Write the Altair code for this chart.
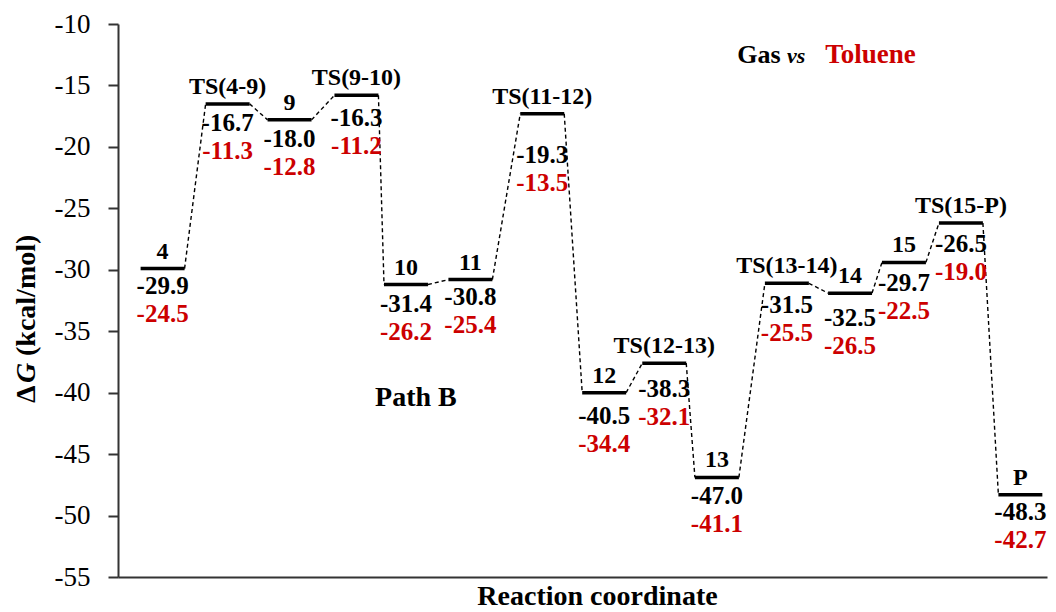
import altair as alt
import pandas as pd

# ---- data ----
species = ["4", "TS(4-9)", "9", "TS(9-10)", "10", "11", "TS(11-12)", "12",
           "TS(12-13)", "13", "TS(13-14)", "14", "15", "TS(15-P)", "P"]
# position along the reaction coordinate (centre of each level)
coord = [0.72, 1.77, 2.77, 3.85, 4.65, 5.69, 6.85, 7.85, 8.82, 9.67,
         10.80, 11.82, 12.69, 13.61, 14.57]
# height at which each level bar is drawn
level = [-29.9, -16.5, -17.8, -15.8, -31.2, -30.8, -17.3, -40.0, -37.6,
         -46.9, -31.1, -31.9, -29.4, -26.2, -48.3]
# gas-phase free energies (black labels)
gas = [-29.9, -16.7, -18.0, -16.3, -31.4, -30.8, -19.3, -40.5, -38.3,
       -47.0, -31.5, -32.5, -29.7, -26.5, -48.3]
# toluene free energies (red labels)
toluene = [-24.5, -11.3, -12.8, -11.2, -26.2, -25.4, -13.5, -34.4, -32.1,
           -41.1, -25.5, -26.5, -22.5, -19.0, -42.7]

y_ticks = [-55, -50, -45, -40, -35, -30, -25, -20, -15, -10]

# annotations (text, coordinate, energy)
ann_text = ["Gas", "vs", "Toluene", "Path B"]
ann_x = [10.0, 10.80, 11.42, 4.15]
ann_y = [-13.2, -13.2, -13.2, -41.1]

HALF = 0.355
FONT = "Liberation Serif"
RED = "#cc0000"
AXIS_COLOR = "#333333"

df = pd.DataFrame({
    "name": species, "coord": coord, "level": level,
    "gas": gas, "toluene": toluene,
})
df["left"] = df["coord"] - HALF
df["right"] = df["coord"] + HALF
df["gas_txt"] = [f"{v:.1f}" for v in gas]
df["tol_txt"] = [f"{v:.1f}" for v in toluene]

conn = pd.DataFrame({
    "x": list(df["right"][:-1]),
    "x2": list(df["left"][1:]),
    "y": level[:-1],
    "y2": level[1:],
})

ann = pd.DataFrame({"t": ann_text, "x": ann_x, "y": ann_y})

xs = alt.Scale(domain=[0, 15], nice=False, zero=False)
ys = alt.Scale(domain=[-55, -10], nice=False, zero=False)

xaxis = alt.Axis(
    title="Reaction coordinate", ticks=False, labels=False, grid=False,
    titleFont=FONT, titleFontSize=28, titleFontWeight="bold", titleColor="black",
    titleX=479, titleY=27, titleBaseline="alphabetic")
yaxis = alt.Axis(
    title=None, values=y_ticks, grid=False, tickSize=10, labelPadding=18,
    labelFont=FONT, labelFontSize=27, labelColor="black",
    labelExpr="datum.value < 0 ? '-' + abs(datum.value) : '' + datum.value")


def X(field):
    return alt.X(field, scale=xs, axis=xaxis, title="Reaction coordinate")


def Y(field):
    return alt.Y(field, scale=ys, axis=yaxis, title=None)


bars = alt.Chart(df).mark_rule(strokeWidth=3.5, color="black", strokeCap="butt").encode(
    x=X("left:Q"), x2="right:Q", y=Y("level:Q"),
)

connectors = alt.Chart(conn).mark_rule(strokeDash=[4, 3], strokeWidth=1.4, color="black").encode(
    x=X("x:Q"), x2="x2:Q", y=Y("y:Q"), y2="y2:Q",
)

names = alt.Chart(df).mark_text(font=FONT, fontSize=24, fontWeight="bold", dy=-17,
                                baseline="middle", color="black").encode(
    x=X("coord:Q"), y=Y("level:Q"), text="name:N")

gas_lbl = alt.Chart(df).mark_text(font=FONT, fontSize=25, fontWeight="bold", dy=17,
                                  baseline="middle", color="black").encode(
    x=X("coord:Q"), y=Y("gas:Q"), text="gas_txt:N")

tol_lbl = alt.Chart(df).mark_text(font=FONT, fontSize=25, fontWeight="bold", dy=45,
                                  baseline="middle", color=RED).encode(
    x=X("coord:Q"), y=Y("gas:Q"), text="tol_txt:N")

ann_base = alt.Chart(ann).encode(x=X("x:Q"), y=Y("y:Q"), text="t:N")
ann_bold = ann_base.mark_text(font=FONT, fontWeight="bold", align="left",
                              baseline="alphabetic").encode(
    color=alt.Color("t:N", scale=alt.Scale(domain=["Gas", "Toluene", "Path B"],
                                           range=["black", RED, "black"]), legend=None),
    size=alt.Size("t:N", scale=alt.Scale(domain=["Gas", "Toluene", "Path B"],
                                         range=[26, 28, 28]), legend=None),
).transform_filter(alt.datum.t != "vs")
ann_vs = ann_base.mark_text(font=FONT, fontWeight="bold", fontStyle="italic", fontSize=22,
                            align="left", baseline="alphabetic", color="black"
                            ).transform_filter(alt.datum.t == "vs")

# y-axis title "ΔG (kcal/mol)" with italic G
one = alt.Data(values=[{}])
yt_delta = alt.Chart(one).mark_text(text="Δ", font=FONT, fontSize=28, fontWeight="bold",
                                    angle=270, align="left", baseline="alphabetic",
                                    color="black").encode(x=alt.value(-83), y=alt.value(379))
yt_g = alt.Chart(one).mark_text(text="G", font=FONT, fontSize=28, fontWeight="bold",
                                fontStyle="italic", angle=270, align="left",
                                baseline="alphabetic", color="black").encode(
    x=alt.value(-83), y=alt.value(359))
yt_rest = alt.Chart(one).mark_text(text="(kcal/mol)", font=FONT, fontSize=28, fontWeight="bold",
                                   angle=270, align="left", baseline="alphabetic",
                                   color="black").encode(x=alt.value(-83), y=alt.value(332))

chart = alt.layer(
    bars, connectors, names, gas_lbl, tol_lbl, ann_bold, ann_vs, yt_delta, yt_g, yt_rest
).properties(
    width=929, height=553,
    padding={"left": 110, "top": 16, "right": 1, "bottom": 35},
    autosize=alt.AutoSizeParams(type="none"),
).configure_view(stroke=None).configure_axis(
    domainColor=AXIS_COLOR, domainWidth=2, tickColor=AXIS_COLOR, tickWidth=2,
)

chart.save("out.html", embed_options={"renderer": "svg", "actions": False})
